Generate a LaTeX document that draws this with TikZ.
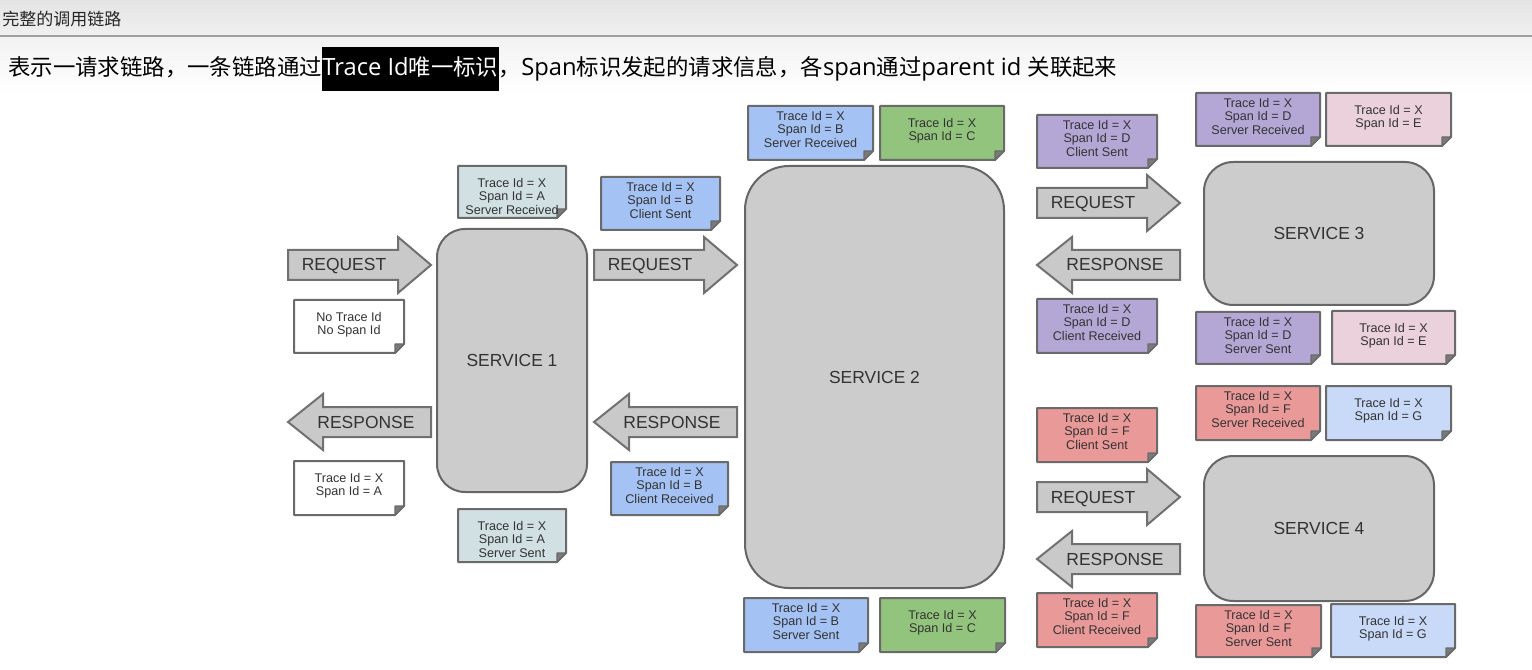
\documentclass[tikz,border=0pt]{standalone}
\usepackage{fontspec}
\setmainfont{Liberation Sans}
\newfontfamily\cjk{Noto Sans CJK SC}
\newfontfamily\hlat[Scale=1.06]{Open Sans}
\usetikzlibrary{backgrounds,fit}
\definecolor{svcfill}{HTML}{CCCCCC}
\definecolor{svcline}{HTML}{666666}
\definecolor{arrfill}{HTML}{C9C9C9}
\definecolor{arrline}{HTML}{707070}
\definecolor{noteline}{HTML}{6A6A6A}
\definecolor{foldc}{HTML}{7A7A7A}
\definecolor{txt}{HTML}{333333}
\definecolor{cA}{HTML}{D0E0E3}
\definecolor{cB}{HTML}{A4C2F4}
\definecolor{cC}{HTML}{93C47D}
\definecolor{cD}{HTML}{B4A7D6}
\definecolor{cE}{HTML}{EAD1DC}
\definecolor{cF}{HTML}{EA9999}
\definecolor{cG}{HTML}{C9DAF8}
\definecolor{barTop}{HTML}{E4E4E4}
\definecolor{barBot}{HTML}{F0F0F0}
\definecolor{barLine}{HTML}{A0A0A0}
\newcommand\notebox[8][12]{%
  \path[notepath,fill=#7] (#3,#4) -- (#5,#4) -- (#5,#6-9) -- (#5-9,#6) -- (#3,#6) -- cycle;
  \path[foldpath] (#5,#6-9) -- (#5-9,#6-9) -- (#5-9,#6) -- cycle;
  \node[notetext] (#2) at ({(#3+#5)/2},#4+#1) {#8};}
\newcommand\reqarrow[3]{%
  \path[blockarrow] (#2,#3-15) -- (#2+110,#3-15) -- (#2+110,#3-28) -- (#2+143,#3)
    -- (#2+110,#3+28) -- (#2+110,#3+15) -- (#2,#3+15) -- cycle;
  \node[arrowtext] (#1) at (#2+56,#3+6) {REQUEST};}
\newcommand\resparrow[3]{%
  \path[blockarrow] (#2,#3) -- (#2+35,#3-28) -- (#2+35,#3-15) -- (#2+143,#3-15)
    -- (#2+143,#3+15) -- (#2+35,#3+15) -- (#2+35,#3+28) -- cycle;
  \node[arrowtext] (#1) at (#2+78,#3+6) {RESPONSE};}
\begin{document}
\begin{tikzpicture}[x=0.75pt,y=-0.75pt,
  notepath/.style={draw=noteline,line width=1.5pt,line join=round},
  foldpath/.style={draw=noteline,fill=foldc,line width=1pt,line join=round},
  notetext/.style={anchor=north,inner sep=0pt,align=center,text=txt,
    font=\fontsize{9.45}{10}\selectfont},
  blockarrow/.style={draw=arrline,fill=arrfill,line width=1.5pt,line join=miter},
  arrowtext/.style={inner sep=0pt,anchor=base,text=txt,font=\fontsize{13.1}{15}\selectfont},
  svc/.style={draw=svcline,fill=svcfill,line width=1.5pt,inner sep=0pt},
  svclabel/.style={inner sep=0pt,anchor=base,text=txt,font=\fontsize{13.1}{15}\selectfont},
  hdr/.style={inner sep=0pt,anchor=base west,font=\fontsize{16.8}{20}\selectfont}]
\useasboundingbox (0,0) rectangle (1532,670);

% title and header
\node[inner sep=0pt,anchor=west,text=black!85,font=\cjk\fontsize{12.75}{15}\selectfont] (title) at (2,19) {完整的调用链路};
\node[hdr] (h1) at (8,76) {\cjk 表示一请求链路，一条链路通过};
\node[hdr,text=white] (h2) at (h1.base east) {\hlat Trace Id\cjk 唯一标识};
\node[hdr] (h3) at (h2.base east) {\cjk ，\hlat Span\cjk 标识发起的请求信息，各\hlat span\cjk 通过\hlat parent id \cjk 关联起来};
\coordinate (hlT) at (0,47);
\coordinate (hlB) at (0,91);
\begin{scope}[on background layer]
  \fill[white] (0,0) rectangle (1532,670);
  \shade[top color=barTop,bottom color=barBot] (0,0) rectangle (1532,36);
  \shade[top color=black!5,bottom color=white] (0,37) rectangle (1532,92);
  \draw[barLine,line width=1.5pt] (0,36.5) -- (1532,36.5);
  \fill[black] (h2.west |- hlT) rectangle (h2.east |- hlB);
\end{scope}

% services
\node[svc,rounded corners=21pt,fit={(437,229) (587,492)}] (s1) {};
\node[svclabel] (s1l) at ([yshift=-6*0.75pt]s1.center) {SERVICE 1};
\node[svc,rounded corners=33pt,fit={(745,166) (1004,588)}] (s2) {};
\node[svclabel] (s2l) at ([yshift=-6*0.75pt]s2.center) {SERVICE 2};
\node[svc,rounded corners=22pt,fit={(1204,162) (1434,305)}] (s3) {};
\node[svclabel] (s3l) at ([yshift=-6*0.75pt]s3.center) {SERVICE 3};
\node[svc,rounded corners=22pt,fit={(1204,456) (1434,601)}] (s4) {};
\node[svclabel] (s4l) at ([yshift=-6*0.75pt]s4.center) {SERVICE 4};

% arrows
\reqarrow{req1}{288}{265}
\resparrow{resp1}{288}{422}
\reqarrow{req2}{594}{265}
\resparrow{resp2}{594}{422}
\reqarrow{req3}{1037}{203}
\resparrow{resp3}{1037}{265}
\reqarrow{req4}{1037}{497}
\resparrow{resp4}{1037}{559}

% notes
\notebox{n1}{458}{166}{566}{218}{cA}{Trace Id = X\\Span Id = A\\Server Received}
\notebox{n2}{294}{300}{404}{353}{white}{No Trace Id\\No Span Id}
\notebox{n3}{294}{461}{404}{515}{white}{Trace Id = X\\Span Id = A}
\notebox{n4}{458}{509}{566}{562}{cA}{Trace Id = X\\Span Id = A\\Server Sent}
\notebox[5]{n5}{601}{177}{720}{230}{cB}{Trace Id = X\\Span Id = B\\Client Sent}
\notebox[5]{n6}{748}{106}{873}{160}{cB}{Trace Id = X\\Span Id = B\\Server Received}
\notebox{n7}{880}{106}{1004}{160}{cC}{Trace Id = X\\Span Id = C}
\notebox[5]{n8}{611}{462}{728}{515}{cB}{Trace Id = X\\Span Id = B\\Client Received}
\notebox[5]{n9}{744}{598}{868}{652}{cB}{Trace Id = X\\Span Id = B\\Server Sent}
\notebox{n10}{880}{598}{1005}{652}{cC}{Trace Id = X\\Span Id = C}
\notebox[5]{n11}{1037}{115}{1157}{168}{cD}{Trace Id = X\\Span Id = D\\Client Sent}
\notebox[5]{n12}{1196}{93}{1320}{146}{cD}{Trace Id = X\\Span Id = D\\Server Received}
\notebox{n13}{1326}{93}{1451}{146}{cE}{Trace Id = X\\Span Id = E}
\notebox[5]{n14}{1037}{299}{1157}{353}{cD}{Trace Id = X\\Span Id = D\\Client Received}
\notebox[5]{n15}{1196}{312}{1320}{364}{cD}{Trace Id = X\\Span Id = D\\Server Sent}
\notebox{n16}{1332}{311}{1455}{364}{cE}{Trace Id = X\\Span Id = E}
\notebox[5]{n17}{1037}{408}{1157}{462}{cF}{Trace Id = X\\Span Id = F\\Client Sent}
\notebox[5]{n18}{1196}{386}{1320}{440}{cF}{Trace Id = X\\Span Id = F\\Server Received}
\notebox{n19}{1326}{386}{1451}{440}{cG}{Trace Id = X\\Span Id = G}
\notebox[5]{n20}{1037}{593}{1157}{647}{cF}{Trace Id = X\\Span Id = F\\Client Received}
\notebox[5]{n21}{1196}{605}{1321}{657}{cF}{Trace Id = X\\Span Id = F\\Server Sent}
\notebox{n22}{1331}{604}{1455}{657}{cG}{Trace Id = X\\Span Id = G}
\end{tikzpicture}
\end{document}
